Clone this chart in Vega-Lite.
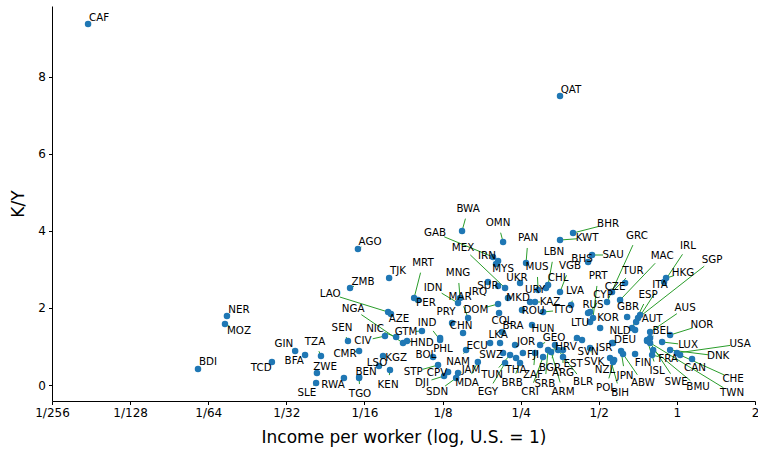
{
"$schema": "https://vega.github.io/schema/vega-lite/v6.json",
"width": 703, "height": 395,
"autosize": "none",
"padding": {"left": 52, "top": 6, "right": 3, "bottom": 49},
"config": {"view": {"stroke": null}, "font": "DejaVu Sans",
  "axis": {"grid": false, "domainColor": "#000", "tickColor": "#000", "tickSize": 3.5, "labelFontSize": 12, "labelColor": "#000",
           "labelPadding": 3, "titleFontSize": 17, "titleFontWeight": "normal", "titleColor": "#000", "labelFlush": false}},
"data": {"values": [
{"c":"CAF","x":0.00538,"y":9.367,"lx":0.00593,"ly":9.52},
{"c":"QAT","x":0.3545,"y":7.499,"lx":0.391,"ly":7.654},
{"c":"BWA","x":0.1486,"y":3.996,"lx":0.1568,"ly":4.567},
{"c":"OMN","x":0.2139,"y":3.710,"lx":0.2046,"ly":4.203},
{"c":"GAB","x":0.1957,"y":3.321,"lx":0.1169,"ly":3.944},
{"c":"MEX","x":0.2177,"y":2.517,"lx":0.1499,"ly":3.555},
{"c":"IRN","x":0.2046,"y":3.217,"lx":0.1855,"ly":3.347},
{"c":"MYS","x":0.2009,"y":3.140,"lx":0.2139,"ly":3.010},
{"c":"PAN","x":0.2622,"y":3.166,"lx":0.267,"ly":3.814},
{"c":"KWT","x":0.3545,"y":3.762,"lx":0.4507,"ly":3.814},
{"c":"BHR","x":0.398,"y":3.944,"lx":0.543,"ly":4.177},
{"c":"LBN","x":0.3188,"y":2.595,"lx":0.3362,"ly":3.451},
{"c":"VGB","x":0.3545,"y":2.413,"lx":0.3875,"ly":3.088},
{"c":"BHS","x":0.4547,"y":3.191,"lx":0.431,"ly":3.269},
{"c":"SAU","x":0.471,"y":3.373,"lx":0.5675,"ly":3.373},
{"c":"GRC","x":0.538,"y":2.154,"lx":0.702,"ly":3.866},
{"c":"MAC","x":0.604,"y":2.205,"lx":0.877,"ly":3.347},
{"c":"TUR","x":0.5625,"y":2.413,"lx":0.678,"ly":2.958},
{"c":"IRL","x":0.8925,"y":2.673,"lx":1.104,"ly":3.607},
{"c":"HKG","x":0.9085,"y":2.776,"lx":1.056,"ly":2.906},
{"c":"SGP","x":0.7085,"y":1.738,"lx":1.367,"ly":3.243},
{"c":"ITA","x":0.6965,"y":1.635,"lx":0.8615,"ly":2.595},
{"c":"ESP","x":0.672,"y":1.479,"lx":0.7745,"ly":2.335},
{"c":"GBR","x":0.643,"y":1.764,"lx":0.6485,"ly":2.024},
{"c":"AUT","x":0.7215,"y":1.816,"lx":0.8025,"ly":1.713},
{"c":"AUS","x":0.7885,"y":1.375,"lx":1.076,"ly":1.998},
{"c":"NOR","x":0.9415,"y":1.297,"lx":1.250,"ly":1.557},
{"c":"BEL","x":0.7885,"y":1.220,"lx":0.877,"ly":1.401},
{"c":"NLD","x":0.690,"y":1.427,"lx":0.604,"ly":1.401},
{"c":"CZE","x":0.6315,"y":2.647,"lx":0.5775,"ly":2.543},
{"c":"PRT","x":0.475,"y":1.738,"lx":0.497,"ly":2.828},
{"c":"CYP","x":0.4628,"y":1.894,"lx":0.5195,"ly":2.335},
{"c":"LVA","x":0.391,"y":2.076,"lx":0.405,"ly":2.439},
{"c":"RUS","x":0.4547,"y":1.868,"lx":0.475,"ly":2.076},
{"c":"LTU","x":0.4628,"y":1.635,"lx":0.4235,"ly":1.609},
{"c":"KOR","x":0.506,"y":1.479,"lx":0.543,"ly":1.738},
{"c":"TTO","x":0.305,"y":1.894,"lx":0.364,"ly":1.946},
{"c":"KAZ","x":0.284,"y":2.154,"lx":0.3245,"ly":2.154},
{"c":"URY","x":0.2717,"y":2.154,"lx":0.284,"ly":2.465},
{"c":"MKD","x":0.2234,"y":2.257,"lx":0.2443,"ly":2.257},
{"c":"CHL","x":0.313,"y":2.517,"lx":0.3485,"ly":2.776},
{"c":"UKR","x":0.2486,"y":2.647,"lx":0.2421,"ly":2.776},
{"c":"MUS","x":0.2918,"y":2.465,"lx":0.289,"ly":3.062},
{"c":"ROU","x":0.253,"y":1.946,"lx":0.279,"ly":1.920},
{"c":"HUN","x":0.2765,"y":1.557,"lx":0.305,"ly":1.453},
{"c":"BRA","x":0.212,"y":1.375,"lx":0.2336,"ly":1.531},
{"c":"COL","x":0.2064,"y":1.868,"lx":0.212,"ly":1.661},
{"c":"DOM","x":0.2046,"y":2.102,"lx":0.168,"ly":1.946},
{"c":"IRQ","x":0.187,"y":2.673,"lx":0.171,"ly":2.413},
{"c":"SUR","x":0.2046,"y":2.569,"lx":0.187,"ly":2.569},
{"c":"MAR","x":0.1568,"y":1.738,"lx":0.146,"ly":2.283},
{"c":"IDN","x":0.1434,"y":2.128,"lx":0.1149,"ly":2.517},
{"c":"PER","x":0.1006,"y":2.205,"lx":0.1079,"ly":2.128},
{"c":"MRT","x":0.0971,"y":2.257,"lx":0.1051,"ly":3.166},
{"c":"PRY","x":0.136,"y":1.609,"lx":0.1289,"ly":1.894},
{"c":"MNG","x":0.146,"y":2.257,"lx":0.1434,"ly":2.906},
{"c":"CHN","x":0.1499,"y":1.349,"lx":0.1473,"ly":1.531},
{"c":"IND","x":0.1223,"y":1.168,"lx":0.1089,"ly":1.609},
{"c":"GTM","x":0.1041,"y":1.401,"lx":0.0904,"ly":1.375},
{"c":"LKA","x":0.2082,"y":1.090,"lx":0.2046,"ly":1.297},
{"c":"ECU","x":0.1906,"y":1.090,"lx":0.1698,"ly":1.012},
{"c":"PHL","x":0.1223,"y":1.220,"lx":0.1255,"ly":0.934},
{"c":"HND","x":0.0912,"y":1.142,"lx":0.1041,"ly":1.090},
{"c":"BOL","x":0.1149,"y":0.727,"lx":0.1079,"ly":0.778},
{"c":"KGZ","x":0.0737,"y":0.752,"lx":0.0828,"ly":0.701},
{"c":"NAM","x":0.154,"y":0.908,"lx":0.1434,"ly":0.597},
{"c":"STP","x":0.1201,"y":0.519,"lx":0.0963,"ly":0.337},
{"c":"CPV","x":0.1313,"y":0.337,"lx":0.119,"ly":0.311},
{"c":"JAM","x":0.1434,"y":0.311,"lx":0.161,"ly":0.389},
{"c":"DJI","x":0.1267,"y":0.234,"lx":0.1041,"ly":0.052},
{"c":"SDN","x":0.141,"y":0.182,"lx":0.119,"ly":-0.182},
{"c":"MDA","x":0.171,"y":0.597,"lx":0.1553,"ly":0.052},
{"c":"SWZ","x":0.2139,"y":0.830,"lx":0.1923,"ly":0.778},
{"c":"TUN","x":0.2276,"y":0.778,"lx":0.194,"ly":0.259},
{"c":"EGY","x":0.2177,"y":0.571,"lx":0.187,"ly":-0.182},
{"c":"BRB","x":0.2486,"y":0.571,"lx":0.2318,"ly":0.052},
{"c":"THA","x":0.240,"y":0.701,"lx":0.240,"ly":0.389},
{"c":"ZAF","x":0.284,"y":0.830,"lx":0.279,"ly":0.259},
{"c":"CRI","x":0.305,"y":0.727,"lx":0.2717,"ly":-0.182},
{"c":"SRB","x":0.3188,"y":0.908,"lx":0.310,"ly":0.026},
{"c":"ARM","x":0.3275,"y":0.856,"lx":0.364,"ly":-0.182},
{"c":"BGR","x":0.339,"y":1.038,"lx":0.3245,"ly":0.441},
{"c":"ARG","x":0.364,"y":0.908,"lx":0.364,"ly":0.311},
{"c":"BLR","x":0.3485,"y":0.908,"lx":0.435,"ly":0.078},
{"c":"EST","x":0.364,"y":0.727,"lx":0.398,"ly":0.545},
{"c":"FJI","x":0.255,"y":0.830,"lx":0.279,"ly":0.778},
{"c":"JOR","x":0.2378,"y":1.038,"lx":0.2622,"ly":1.116},
{"c":"GEO","x":0.297,"y":1.038,"lx":0.3362,"ly":1.220},
{"c":"HRV","x":0.412,"y":1.220,"lx":0.374,"ly":0.986},
{"c":"SVN","x":0.431,"y":1.168,"lx":0.4547,"ly":0.856},
{"c":"SVK","x":0.4628,"y":0.960,"lx":0.4795,"ly":0.597},
{"c":"ISR","x":0.5625,"y":1.090,"lx":0.524,"ly":0.960},
{"c":"NZL","x":0.5675,"y":0.597,"lx":0.5285,"ly":0.389},
{"c":"POL","x":0.573,"y":0.649,"lx":0.5335,"ly":-0.078},
{"c":"BIH","x":0.5525,"y":0.701,"lx":0.604,"ly":-0.208},
{"c":"JPN","x":0.6095,"y":0.882,"lx":0.6315,"ly":0.234},
{"c":"ABW","x":0.620,"y":0.804,"lx":0.7405,"ly":0.052},
{"c":"FIN","x":0.690,"y":0.804,"lx":0.7405,"ly":0.571},
{"c":"ISL","x":0.7675,"y":1.168,"lx":0.839,"ly":0.363},
{"c":"FRA","x":0.8025,"y":0.778,"lx":0.925,"ly":0.675},
{"c":"SWE","x":0.7885,"y":1.090,"lx":0.993,"ly":0.078},
{"c":"BMU","x":0.810,"y":0.908,"lx":1.207,"ly":-0.052},
{"c":"TWN","x":0.7675,"y":1.142,"lx":1.632,"ly":-0.208},
{"c":"CHE","x":1.029,"y":0.778,"lx":1.647,"ly":0.156},
{"c":"CAN","x":1.144,"y":0.675,"lx":1.175,"ly":0.441},
{"c":"DNK","x":0.9415,"y":0.908,"lx":1.442,"ly":0.752},
{"c":"USA","x":1.0,"y":0.830,"lx":1.752,"ly":1.064},
{"c":"LUX","x":0.877,"y":1.116,"lx":1.104,"ly":1.038},
{"c":"DEU","x":0.5675,"y":1.090,"lx":0.6315,"ly":1.168},
{"c":"AGO","x":0.0590,"y":3.529,"lx":0.0657,"ly":3.710},
{"c":"TJK","x":0.0778,"y":2.776,"lx":0.0842,"ly":2.958},
{"c":"ZMB","x":0.055,"y":2.517,"lx":0.0617,"ly":2.673},
{"c":"LAO","x":0.0771,"y":1.894,"lx":0.0461,"ly":2.361},
{"c":"AZE","x":0.0791,"y":1.842,"lx":0.0849,"ly":1.713},
{"c":"NGA","x":0.088,"y":1.090,"lx":0.0565,"ly":1.972},
{"c":"SEN","x":0.054,"y":1.142,"lx":0.0512,"ly":1.479},
{"c":"NIC","x":0.0828,"y":1.245,"lx":0.0687,"ly":1.453},
{"c":"CIV","x":0.075,"y":1.271,"lx":0.0617,"ly":1.142},
{"c":"TZA","x":0.0425,"y":0.752,"lx":0.0403,"ly":1.116},
{"c":"CMR","x":0.0596,"y":0.882,"lx":0.0526,"ly":0.804},
{"c":"LSO","x":0.0711,"y":0.493,"lx":0.0699,"ly":0.571},
{"c":"ZWE","x":0.041,"y":0.311,"lx":0.0441,"ly":0.467},
{"c":"BEN","x":0.0596,"y":0.208,"lx":0.0634,"ly":0.337},
{"c":"RWA","x":0.0521,"y":0.182,"lx":0.0473,"ly":0.0},
{"c":"SLE","x":0.0407,"y":0.052,"lx":0.0375,"ly":-0.208},
{"c":"TGO","x":0.0596,"y":0.182,"lx":0.0601,"ly":-0.234},
{"c":"KEN","x":0.0784,"y":0.389,"lx":0.0771,"ly":0.0},
{"c":"GIN","x":0.0338,"y":0.882,"lx":0.0306,"ly":1.064},
{"c":"BFA","x":0.0369,"y":0.778,"lx":0.0335,"ly":0.623},
{"c":"TCD","x":0.0275,"y":0.597,"lx":0.025,"ly":0.441},
{"c":"BDI","x":0.01427,"y":0.415,"lx":0.0156,"ly":0.597},
{"c":"NER","x":0.01845,"y":1.790,"lx":0.02053,"ly":1.946},
{"c":"MOZ","x":0.01813,"y":1.583,"lx":0.02053,"ly":1.401}
]},
"encoding": {
  "x": {"field": "x", "type": "quantitative", "title": "Income per worker (log, U.S. = 1)",
        "scale": {"type": "log", "base": 2, "domain": [0.00390625, 2], "nice": false, "zero": false},
        "axis": {"values": [0.00390625, 0.0078125, 0.015625, 0.03125, 0.0625, 0.125, 0.25, 0.5, 1, 2],
                 "labelExpr": "datum.value >= 1 ? format(datum.value, 'd') : '1/' + format(1 / datum.value, 'd')",
                 "titlePadding": 11}},
  "y": {"field": "y", "type": "quantitative", "title": "K/Y",
        "scale": {"domain": [-0.415, 9.834], "nice": false, "zero": false},
        "axis": {"values": [0, 2, 4, 6, 8], "titlePadding": 10}}
},
"layer": [
{"mark": {"type": "rule", "color": "#2a9d2a", "strokeWidth": 1, "strokeDash": [0, 10, 2000, 0]},
 "encoding": {
  "x": {"field": "lx", "type": "quantitative", "title": "Income per worker (log, U.S. = 1)"},
  "y": {"field": "ly", "type": "quantitative", "title": "K/Y"},
  "x2": {"field": "x"},
  "y2": {"field": "y"}
 }},
{"mark": {"type": "circle", "size": 42, "color": "#1f77b4", "opacity": 1}},
{"mark": {"type": "text", "fontSize": 10.3, "font": "DejaVu Sans", "color": "#000", "align": "center", "baseline": "middle"},
 "encoding": {
  "x": {"field": "lx", "type": "quantitative", "title": "Income per worker (log, U.S. = 1)"},
  "y": {"field": "ly", "type": "quantitative", "title": "K/Y"},
  "text": {"field": "c"}
 }}
]
}
